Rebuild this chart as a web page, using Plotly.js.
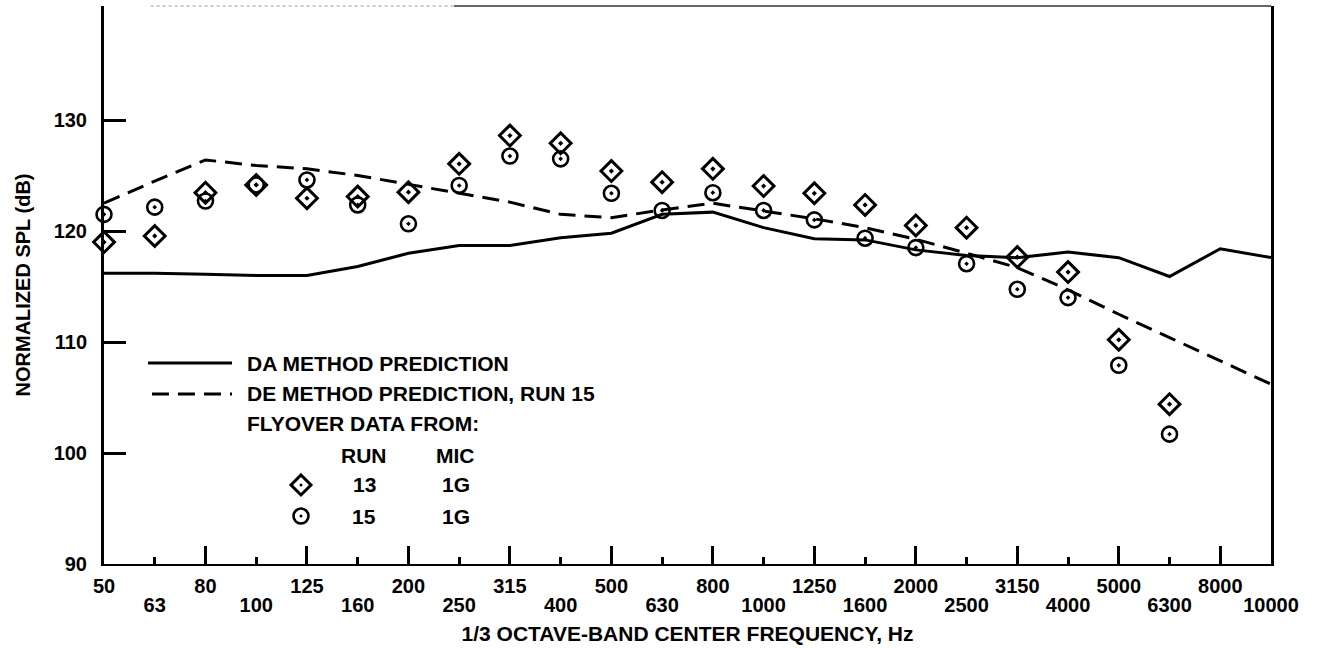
<!DOCTYPE html>
<html>
<head>
<meta charset="utf-8">
<script src="https://cdn.plot.ly/plotly-3.0.1.min.js"></script>
<style>html,body{margin:0;padding:0;background:#fff}</style>
</head>
<body>
<div id="chart" style="width:1319px;height:648px"></div>
<script>
// 1/3 octave-band centre frequencies, Hz
const bands = ['50','63','80','100','125','160','200','250','315','400','500','630','800','1000','1250','1600','2000','2500','3150','4000','5000','6300','8000','10000'];

// Normalized SPL, dB
const daPrediction = [116.2,116.2,116.1,116.0,116.0,116.8,118.0,118.7,118.7,119.4,119.8,121.5,121.7,120.3,119.3,119.2,118.3,117.8,117.6,118.1,117.6,115.9,118.4,117.6];
const dePredictionRun15 = [122.5,124.5,126.4,125.9,125.6,125.0,124.2,123.4,122.6,121.5,121.2,121.9,122.5,121.8,121.1,120.3,119.25,118.0,116.7,114.7,112.5,110.4,108.3,106.2];
const flyoverRun13 = [119.0,119.55,123.45,124.15,122.95,123.1,123.5,126.05,128.6,127.9,125.4,124.4,125.6,124.05,123.4,122.35,120.5,120.3,117.65,116.3,110.2,104.4,null,null];
const flyoverRun15 = [121.5,122.15,122.7,124.15,124.6,122.35,120.65,124.1,126.75,126.5,123.4,121.85,123.45,121.85,121.0,119.35,118.5,117.05,114.75,114.0,107.9,101.7,null,null];

const yTicks = [90,100,110,120,130];

const bandPos = bands.map((_, i) => i);
const evenPos = bandPos.filter(i => i % 2 === 0);
const oddPos = bandPos.filter(i => i % 2 === 1);

const FONT = 'Liberation Sans, Arial, Helvetica, sans-serif';
const INK = '#000';
const tickFont = {family: FONT, size: 20, color: INK, weight: 'bold'};

const traces = [
  {x: bandPos, y: daPrediction, mode: 'lines', line: {color: INK, width: 3}, showlegend: false, hoverinfo: 'skip'},
  {x: bandPos, y: dePredictionRun15, mode: 'lines', line: {color: INK, width: 3, dash: '17px,9px'}, showlegend: false, hoverinfo: 'skip'},
  {x: bandPos, y: flyoverRun13, mode: 'markers', cliponaxis: false,
   marker: {symbol: 'diamond-open-dot', size: 16, color: INK, line: {color: INK, width: 3}}, showlegend: false},
  {x: bandPos, y: flyoverRun15, mode: 'markers', cliponaxis: false,
   marker: {symbol: 'circle-open-dot', size: 15, color: INK, line: {color: INK, width: 2.6}}, showlegend: false},
  // carries the odd-numbered band labels on the second tick row
  {x: [0, 23], y: [null, null], xaxis: 'x2', mode: 'lines', showlegend: false, hoverinfo: 'skip'}
];

// legend block, positioned in paper coordinates inside the plot area
const lg = {lineX0: 0.0377, lineX1: 0.1097, textX: 0.1208, symX: 0.1688, runX: 0.2228, micX: 0.3016,
            yDA: 0.3602, yDE: 0.3047, yFly: 0.2509, yHead: 0.1953, y13: 0.1416, y15: 0.0860};

function txt(text, x, y, anchor) {
  return {text: text, x: x, y: y, xref: 'paper', yref: 'paper', xanchor: anchor, yanchor: 'middle',
          showarrow: false, font: {family: FONT, size: 21, color: INK, weight: 'bold'}};
}

const annotations = [
  txt('DA METHOD PREDICTION', lg.textX, lg.yDA, 'left'),
  txt('DE METHOD PREDICTION, RUN 15', lg.textX, lg.yDE, 'left'),
  txt('FLYOVER DATA FROM:', lg.textX, lg.yFly, 'left'),
  txt('RUN', lg.runX, lg.yHead, 'center'),
  txt('MIC', lg.micX, lg.yHead, 'center'),
  txt('13', lg.runX, lg.y13, 'center'),
  txt('1G', lg.micX, lg.y13, 'center'),
  txt('15', lg.runX, lg.y15, 'center'),
  txt('1G', lg.micX, lg.y15, 'center')
];

function pix(extra) {
  return Object.assign({xref: 'paper', yref: 'paper', xsizemode: 'pixel', ysizemode: 'pixel'}, extra);
}

const shapes = [
  // thin top frame
  {type: 'line', xref: 'paper', yref: 'paper', x0: 0.3, x1: 1, y0: 1, y1: 1, line: {color: '#333', width: 1.5}},
  {type: 'line', xref: 'paper', yref: 'paper', x0: 0.04, x1: 0.3, y0: 1, y1: 1, line: {color: '#999', width: 1, dash: 'dot'}},
  // legend line samples
  {type: 'line', xref: 'paper', yref: 'paper', x0: lg.lineX0, x1: lg.lineX1, y0: lg.yDA, y1: lg.yDA, line: {color: INK, width: 3}},
  {type: 'line', xref: 'paper', yref: 'paper', x0: lg.lineX0 + 0.0034, x1: lg.lineX1, y0: lg.yDE, y1: lg.yDE, line: {color: INK, width: 3, dash: '17px,9px'}},
  // legend symbols
  pix({type: 'path', xanchor: lg.symX, yanchor: lg.y13, path: 'M0,10L10,0L0,-10L-10,0Z', line: {color: INK, width: 3}}),
  pix({type: 'circle', xanchor: lg.symX, yanchor: lg.y13, x0: -1.5, x1: 1.5, y0: -1.5, y1: 1.5, fillcolor: INK, line: {width: 0}}),
  pix({type: 'circle', xanchor: lg.symX, yanchor: lg.y15, x0: -7.5, x1: 7.5, y0: -7.5, y1: 7.5, line: {color: INK, width: 2.6}}),
  pix({type: 'circle', xanchor: lg.symX, yanchor: lg.y15, x0: -1.5, x1: 1.5, y0: -1.5, y1: 1.5, fillcolor: INK, line: {width: 0}})
];

const layout = {
  width: 1319, height: 648,
  margin: {l: 104, r: 48, t: 6, b: 84},
  paper_bgcolor: '#fff', plot_bgcolor: '#fff',
  font: {family: FONT, size: 20, color: INK},
  xaxis: {
    range: [0, 23], showgrid: false, zeroline: false,
    showline: true, linecolor: INK, linewidth: 2,
    tickmode: 'array', tickvals: evenPos, ticktext: evenPos.map(i => bands[i]),
    ticks: 'inside', ticklen: 18, tickwidth: 3, tickcolor: INK,
    minor: {tickmode: 'array', tickvals: oddPos, ticks: 'inside', ticklen: 7, tickwidth: 3, tickcolor: INK, showgrid: false},
    tickfont: tickFont,
    ticklabelstandoff: 3,
    title: {text: '1/3 OCTAVE-BAND CENTER FREQUENCY, Hz', font: {family: FONT, size: 21, color: INK, weight: 'bold'}, standoff: 30}
  },
  xaxis2: {
    overlaying: 'x', anchor: 'y', side: 'bottom', range: [0, 23],
    showgrid: false, zeroline: false, showline: false, ticks: '',
    tickmode: 'array', tickvals: oddPos, ticktext: oddPos.map(i => bands[i]),
    tickfont: tickFont,
    ticklabelstandoff: 27
  },
  yaxis: {
    range: [90, 140.27], showgrid: false, zeroline: false,
    showline: true, linecolor: INK, linewidth: 3, mirror: true,
    tickmode: 'array', tickvals: yTicks, ticktext: yTicks.map(String),
    ticks: 'inside', ticklen: 22, tickwidth: 3, tickcolor: INK,
    tickfont: tickFont,
    ticklabelstandoff: 10,
    title: {text: 'NORMALIZED SPL (dB)', font: {family: FONT, size: 20, color: INK, weight: 'bold'}, standoff: 18}
  },
  shapes: shapes,
  annotations: annotations
};

Plotly.newPlot('chart', traces, layout, {displayModeBar: false, staticPlot: true});
</script>
</body>
</html>
